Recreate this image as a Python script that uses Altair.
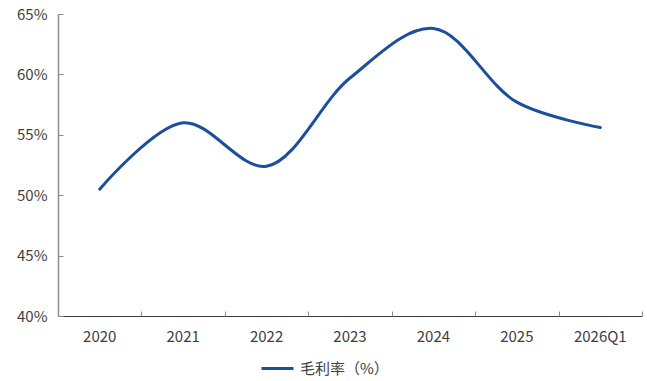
import altair as alt
import pandas as pd

# Gross margin by period
periods = ["2020", "2021", "2022", "2023", "2024", "2025", "2026Q1"]
gross_margin = [50.5, 56.0, 52.4, 59.7, 63.8, 57.7, 55.6]
series_name = "毛利率（%）"

df = pd.DataFrame({"period": periods, "margin": gross_margin, "series": series_name})

FONT = "Noto Sans CJK SC"
LINE_COLOR = "#1B4F9C"
W, H = 584, 302

y_scale = alt.Scale(domain=[40, 65], nice=False, zero=False)
x_scale = alt.Scale(type="band", paddingInner=0, paddingOuter=0)

line = alt.Chart(df).mark_line(
    interpolate="catmull-rom", strokeWidth=3, strokeCap="round"
).encode(
    x=alt.X(
        "period:N",
        sort=periods,
        bandPosition=0.5,
        scale=x_scale,
        title=None,
        axis=alt.Axis(
            orient="bottom",
            ticks=False,
            labelAngle=0,
            labelPadding=13,
            domainColor="#3A3A3A",
            domainWidth=1,
        ),
    ),
    y=alt.Y(
        "margin:Q",
        scale=y_scale,
        title=None,
        axis=alt.Axis(
            orient="left",
            values=[40, 45, 50, 55, 60, 65],
            labelExpr="datum.value + '%'",
            ticks=False,
            labelPadding=11,
            domainColor="#8C8C8C",
            domainWidth=1.5,
            grid=False,
        ),
    ),
    color=alt.Color(
        "series:N",
        scale=alt.Scale(domain=[series_name], range=[LINE_COLOR]),
        legend=alt.Legend(
            title=None,
            orient="none",
            legendX=202,
            legendY=337,
            symbolType="stroke",
            symbolSize=1024,
            symbolStrokeWidth=3,
            labelOffset=5,
            padding=0,
        ),
    ),
)

# Inward-pointing tick marks on both axes
ticks = alt.Chart(df).mark_point(opacity=0).encode(
    x=alt.X(
        "period:N",
        sort=periods,
        bandPosition=0.5,
        scale=x_scale,
        title=None,
        axis=alt.Axis(
            orient="top",
            offset=-H,
            labels=False,
            domain=False,
            tickBand="extent",
            tickSize=5,
            tickColor="#8C8C8C",
        ),
    ),
    y=alt.Y(
        "margin:Q",
        scale=y_scale,
        title=None,
        axis=alt.Axis(
            orient="right",
            offset=-W,
            values=[40, 45, 50, 55, 60, 65],
            labels=False,
            domain=False,
            tickSize=5,
            tickColor="#8C8C8C",
            grid=False,
        ),
    ),
)

chart = (
    alt.layer(line, ticks)
    .resolve_axis(x="independent", y="independent")
    .properties(
        width=W,
        height=H,
        autosize=alt.AutoSizeParams(type="none"),
        padding={"left": 58, "top": 14, "right": 5, "bottom": 65},
        background="white",
    )
    .configure_view(stroke=None)
    .configure_axis(labelFont=FONT, labelFontSize=15, labelColor="#404040")
    .configure_legend(labelFont=FONT, labelFontSize=15, labelColor="#404040")
)

chart.save("out.html", embed_options={"renderer": "svg", "actions": False})
